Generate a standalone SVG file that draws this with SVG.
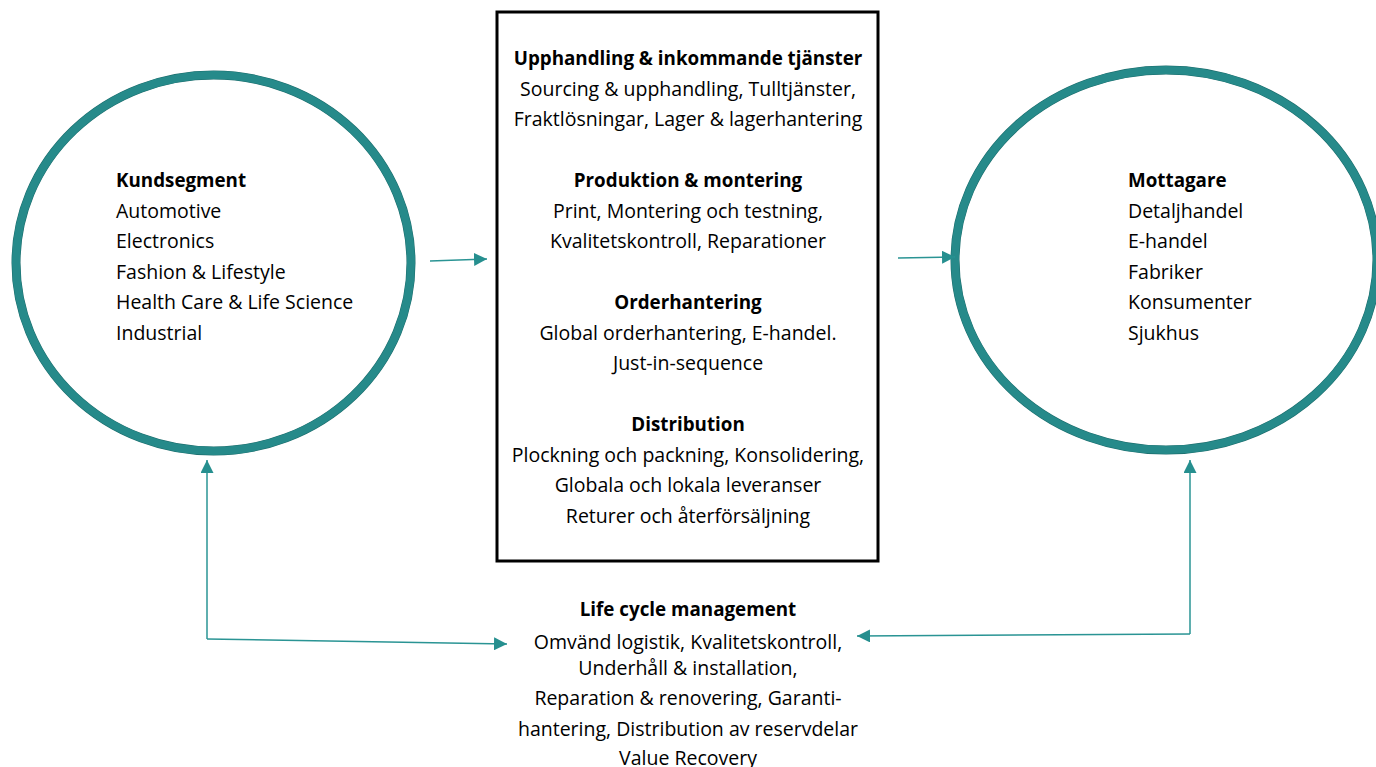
<svg xmlns="http://www.w3.org/2000/svg" width="1376" height="767" viewBox="0 0 1376 767">
<style>
text{font-family:"Open Sans","Noto Sans","DejaVu Sans",sans-serif;font-size:19.5px;fill:#000}
.b{font-weight:bold;font-size:18.8px}
.c{text-anchor:middle}
.ring{fill:none;stroke:#268a8a;stroke-width:8}
.ringedge{fill:none;stroke:#1c6c6c;stroke-width:9}
.conn{fill:none;stroke:#2a9494;stroke-width:1.5}
</style>
<defs>
<marker id="ahL" viewBox="0 0 10 10" refX="10" refY="5" markerWidth="13" markerHeight="13" markerUnits="userSpaceOnUse" orient="auto">
<path d="M0,0 L10,5 L0,10 Z" fill="#268f8f"/>
</marker>
</defs>
<rect width="1376" height="767" fill="#fff"/>
<g id="kundsegment">
<ellipse class="ringedge" cx="213.5" cy="263" rx="197.5" ry="188"/>
<ellipse class="ring" cx="213.5" cy="263" rx="197.5" ry="188"/>
<text class="b" x="116" y="187">Kundsegment</text>
<text x="116" y="218">Automotive</text>
<text x="116" y="248">Electronics</text>
<text x="116" y="279">Fashion &amp; Lifestyle</text>
<text x="116" y="309">Health Care &amp; Life Science</text>
<text x="116" y="340">Industrial</text>
</g>
<g id="tjanster">
<rect x="497" y="12" width="381" height="549" fill="#fff" stroke="#000" stroke-width="3"/>
<text class="b c" x="688" y="65">Upphandling &amp; inkommande tjänster</text>
<text class="c" x="688" y="96">Sourcing &amp; upphandling, Tulltjänster,</text>
<text class="c" x="688" y="126">Fraktlösningar, Lager &amp; lagerhantering</text>
<text class="b c" x="688" y="187">Produktion &amp; montering</text>
<text class="c" x="688" y="218">Print, Montering och testning,</text>
<text class="c" x="688" y="248">Kvalitetskontroll, Reparationer</text>
<text class="b c" x="688" y="309">Orderhantering</text>
<text class="c" x="688" y="340">Global orderhantering, E-handel.</text>
<text class="c" x="688" y="370">Just-in-sequence</text>
<text class="b c" x="688" y="431">Distribution</text>
<text class="c" x="688" y="462">Plockning och packning, Konsolidering,</text>
<text class="c" x="688" y="492">Globala och lokala leveranser</text>
<text class="c" x="688" y="523">Returer och återförsäljning</text>
</g>
<g id="mottagare">
<ellipse class="ringedge" cx="1166" cy="260" rx="211" ry="190"/>
<ellipse class="ring" cx="1166" cy="260" rx="211" ry="190"/>
<text class="b" x="1128" y="187">Mottagare</text>
<text x="1128" y="218">Detaljhandel</text>
<text x="1128" y="248">E-handel</text>
<text x="1128" y="279">Fabriker</text>
<text x="1128" y="309">Konsumenter</text>
<text x="1128" y="340">Sjukhus</text>
</g>
<g id="lifecycle">
<text class="b c" x="688" y="616">Life cycle management</text>
<text class="c" x="688" y="649">Omvänd logistik, Kvalitetskontroll,</text>
<text class="c" x="688" y="675">Underhåll &amp; installation,</text>
<text class="c" x="688" y="705">Reparation &amp; renovering, Garanti-</text>
<text class="c" x="688" y="736">hantering, Distribution av reservdelar</text>
<text class="c" x="688" y="765">Value Recovery</text>
</g>
<g id="connectors">
<path class="conn" d="M430,261 L487,259" marker-end="url(#ahL)"/>
<path class="conn" d="M898,258 L955,257" marker-end="url(#ahL)"/>
<path class="conn" d="M207,639 L207,460" marker-end="url(#ahL)"/>
<path class="conn" d="M207,639 L507,644" marker-end="url(#ahL)"/>
<path class="conn" d="M1190,634 L1190,460" marker-end="url(#ahL)"/>
<path class="conn" d="M1190,634 L857,636" marker-end="url(#ahL)"/>
</g>
</svg>
